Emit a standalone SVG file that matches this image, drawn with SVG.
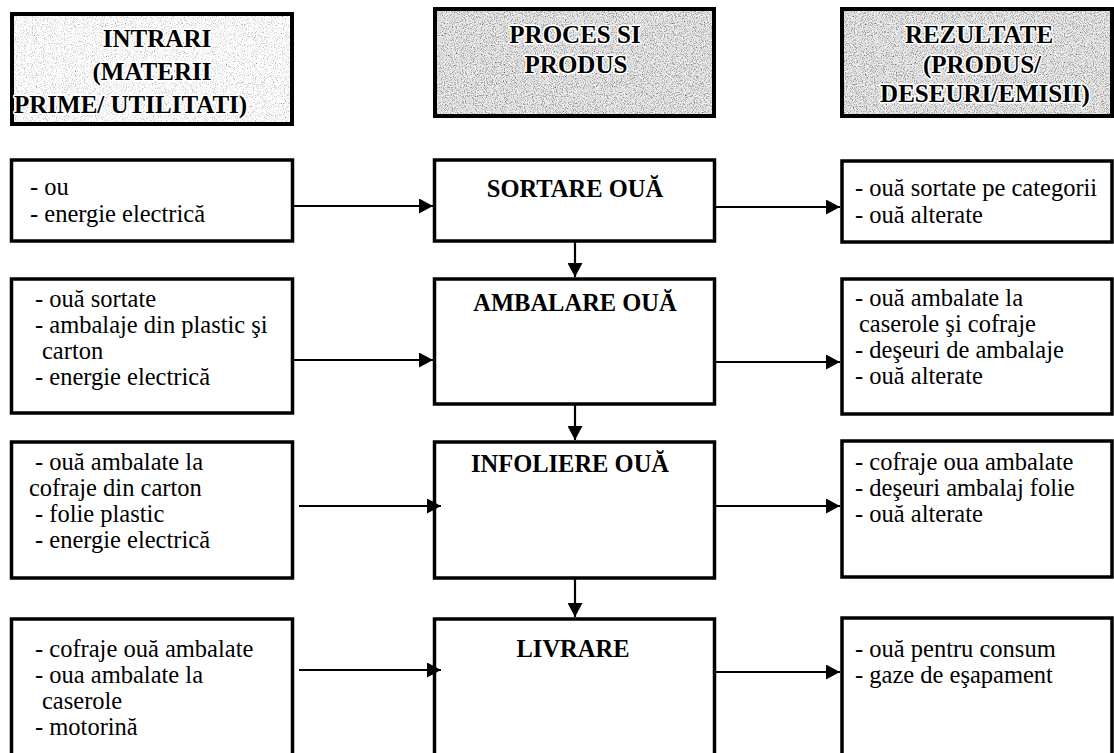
<svg xmlns="http://www.w3.org/2000/svg" width="1114" height="753" viewBox="0 0 1114 753">
<style>
.box{fill:#fff;stroke:#000;stroke-width:3.5}
.hbox{stroke:#000;stroke-width:4}
.t{font-family:"Liberation Serif","Times New Roman","DejaVu Serif",serif;font-size:24.5px;fill:#000}
.b{font-family:"Liberation Serif","Times New Roman","DejaVu Serif",serif;font-size:24.5px;font-weight:bold;fill:#000;text-anchor:middle}
.h{font-family:"Liberation Serif","Times New Roman","DejaVu Serif",serif;font-size:25px;font-weight:bold;fill:#000;stroke:#fff;stroke-width:3;paint-order:stroke;stroke-linejoin:round}
.c{stroke:#000;stroke-width:2.2;fill:none}
</style>
<defs>
<marker id="ah" markerUnits="userSpaceOnUse" markerWidth="15" markerHeight="15" refX="14" refY="7.5" orient="auto">
<path d="M0,0 L14,7.5 L0,15 z" fill="#000"/>
</marker>
<filter id="sp1" x="0" y="0" width="100%" height="100%">
<feTurbulence type="fractalNoise" baseFrequency="0.9" numOctaves="2" seed="4" result="n"/>
<feColorMatrix in="n" type="matrix" values="1 0 0 0 0  1 0 0 0 0  1 0 0 0 0  0 0 0 0 1" result="g"/>
<feComponentTransfer in="g" result="d">
<feFuncR type="discrete" tableValues="0.3 0.6 0.85 1 1 1"/>
<feFuncG type="discrete" tableValues="0.3 0.6 0.85 1 1 1"/>
<feFuncB type="discrete" tableValues="0.3 0.6 0.85 1 1 1"/>
</feComponentTransfer>
<feComposite in="d" in2="SourceGraphic" operator="in"/>
</filter>
<filter id="sp2" x="0" y="0" width="100%" height="100%">
<feTurbulence type="fractalNoise" baseFrequency="0.9" numOctaves="2" seed="9" result="n"/>
<feColorMatrix in="n" type="matrix" values="1 0 0 0 0  1 0 0 0 0  1 0 0 0 0  0 0 0 0 1" result="g"/>
<feComponentTransfer in="g" result="d">
<feFuncR type="discrete" tableValues="0.15 0.4 0.7 0.9 1"/>
<feFuncG type="discrete" tableValues="0.15 0.4 0.7 0.9 1"/>
<feFuncB type="discrete" tableValues="0.15 0.4 0.7 0.9 1"/>
</feComponentTransfer>
<feComposite in="d" in2="SourceGraphic" operator="in"/>
</filter>
</defs>
<rect width="1114" height="753" fill="#fff"/>

<g id="header-intrari">
<rect x="12" y="14" width="280" height="110" fill="#ccc" filter="url(#sp1)"/>
<rect class="hbox" x="12" y="14" width="280" height="110" fill="none"/>
<text class="h" x="157" y="47" text-anchor="middle">INTRARI</text>
<text class="h" x="152" y="80" text-anchor="middle">(MATERII</text>
<text class="h" x="14" y="113">PRIME/ UTILITATI)</text>
</g>

<g id="header-proces">
<rect x="435" y="9" width="279" height="107" fill="#aaa" filter="url(#sp2)"/>
<rect class="hbox" x="435" y="9" width="279" height="107" fill="none"/>
<text class="h" x="575" y="43" text-anchor="middle">PROCES SI</text>
<text class="h" x="576" y="73" text-anchor="middle">PRODUS</text>
</g>

<g id="header-rezultate">
<rect x="842" y="9" width="270" height="107" fill="#aaa" filter="url(#sp2)"/>
<rect class="hbox" x="842" y="9" width="270" height="107" fill="none"/>
<text class="h" x="979" y="43" text-anchor="middle">REZULTATE</text>
<text class="h" x="982" y="73" text-anchor="middle">(PRODUS/</text>
<text class="h" x="985" y="102" text-anchor="middle">DESEURI/EMISII)</text>
</g>

<g id="in-1">
<rect class="box" x="11.5" y="160" width="281" height="81"/>
<text class="t" x="30" y="195">- ou</text>
<text class="t" x="30" y="222">- energie electrică</text>
</g>
<g id="proc-sortare">
<rect class="box" x="434.5" y="160" width="280" height="81"/>
<text class="b" x="575" y="197">SORTARE OUĂ</text>
</g>
<g id="out-1">
<rect class="box" x="842" y="161" width="270" height="81"/>
<text class="t" x="855" y="196">- ouă sortate pe categorii</text>
<text class="t" x="855" y="223">- ouă alterate</text>
</g>

<g id="in-2">
<rect class="box" x="11.5" y="279" width="281" height="134"/>
<text class="t" x="35" y="307">- ouă sortate</text>
<text class="t" x="35" y="333">- ambalaje din plastic şi</text>
<text class="t" x="42" y="359">carton</text>
<text class="t" x="35" y="385">- energie electrică</text>
</g>
<g id="proc-ambalare">
<rect class="box" x="434.5" y="279" width="280" height="125"/>
<text class="b" x="575" y="311">AMBALARE OUĂ</text>
</g>
<g id="out-2">
<rect class="box" x="842" y="279" width="270" height="135"/>
<text class="t" x="855" y="306">- ouă ambalate la</text>
<text class="t" x="859" y="332">caserole şi cofraje</text>
<text class="t" x="855" y="358">- deşeuri de ambalaje</text>
<text class="t" x="855" y="384">- ouă alterate</text>
</g>

<g id="in-3">
<rect class="box" x="11.5" y="442" width="281" height="136"/>
<text class="t" x="35" y="470">- ouă ambalate la</text>
<text class="t" x="29" y="496">cofraje din carton</text>
<text class="t" x="35" y="522">- folie plastic</text>
<text class="t" x="35" y="548">- energie electrică</text>
</g>
<g id="proc-infoliere">
<rect class="box" x="434.5" y="442" width="280" height="136"/>
<text class="b" x="570" y="472">INFOLIERE OUĂ</text>
</g>
<g id="out-3">
<rect class="box" x="842" y="441" width="270" height="136"/>
<text class="t" x="855" y="470">- cofraje oua ambalate</text>
<text class="t" x="855" y="496">- deşeuri ambalaj folie</text>
<text class="t" x="855" y="522">- ouă alterate</text>
</g>

<g id="in-4">
<rect class="box" x="11.5" y="619" width="281" height="140"/>
<text class="t" x="35" y="657">- cofraje ouă ambalate</text>
<text class="t" x="35" y="683">- oua ambalate la</text>
<text class="t" x="42" y="709">caserole</text>
<text class="t" x="35" y="735">- motorină</text>
</g>
<g id="proc-livrare">
<rect class="box" x="434.5" y="619" width="280" height="140"/>
<text class="b" x="573" y="657">LIVRARE</text>
</g>
<g id="out-4">
<rect class="box" x="842" y="618" width="270" height="140"/>
<text class="t" x="855" y="657">- ouă pentru consum</text>
<text class="t" x="855" y="683">- gaze de eşapament</text>
</g>

<g id="connectors">
<line class="c" x1="293" y1="206" x2="433" y2="206" marker-end="url(#ah)"/>
<line class="c" x1="716" y1="207" x2="840" y2="207" marker-end="url(#ah)"/>
<line class="c" x1="575" y1="241" x2="575" y2="277" marker-end="url(#ah)"/>
<line class="c" x1="293" y1="360" x2="433" y2="360" marker-end="url(#ah)"/>
<line class="c" x1="716" y1="362" x2="840" y2="362" marker-end="url(#ah)"/>
<line class="c" x1="575" y1="404" x2="575" y2="440" marker-end="url(#ah)"/>
<line class="c" x1="299" y1="506" x2="441" y2="506" marker-end="url(#ah)"/>
<line class="c" x1="716" y1="506" x2="840" y2="506" marker-end="url(#ah)"/>
<line class="c" x1="575" y1="578" x2="575" y2="617" marker-end="url(#ah)"/>
<line class="c" x1="299" y1="670" x2="441" y2="670" marker-end="url(#ah)"/>
<line class="c" x1="716" y1="672" x2="840" y2="672" marker-end="url(#ah)"/>
</g>
</svg>
